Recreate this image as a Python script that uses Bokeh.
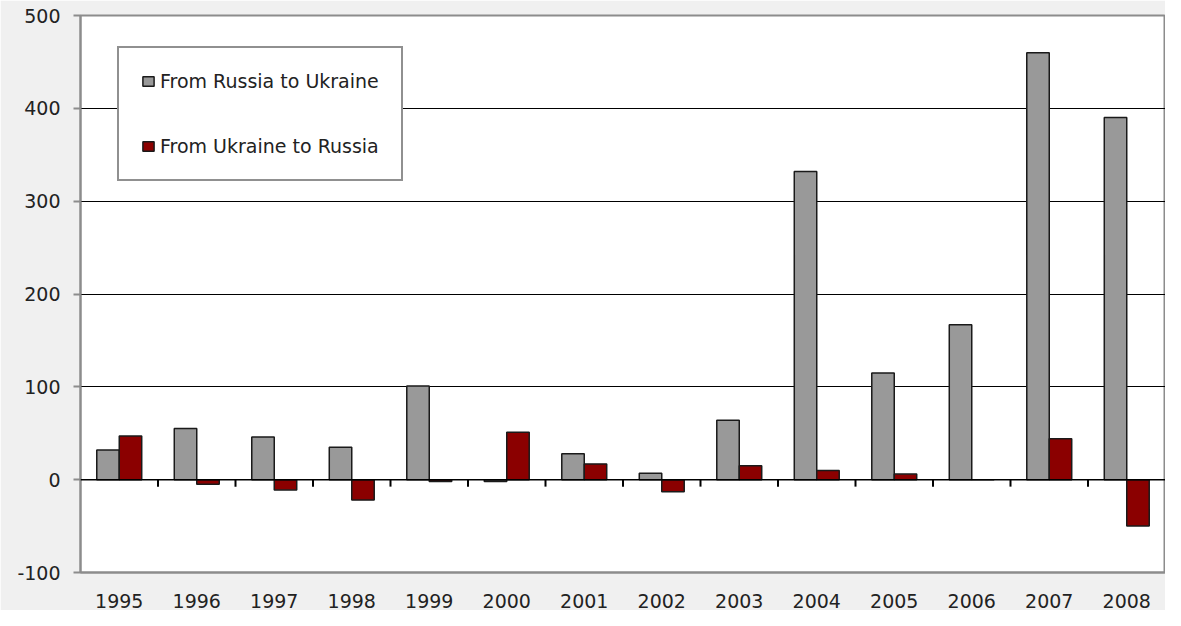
from bokeh.plotting import figure
from bokeh.models import Range1d, FixedTicker, Legend, LegendItem, Span, ColumnDataSource
from bokeh.transform import dodge
from bokeh.embed import file_html
from bokeh.resources import INLINE

years = ["1995", "1996", "1997", "1998", "1999", "2000", "2001",
         "2002", "2003", "2004", "2005", "2006", "2007", "2008"]
russia_to_ukraine = [32, 55, 46, 35, 101, -2, 28, 7, 64, 332, 115, 167, 460, 390]
ukraine_to_russia = [47, -5, -11, -22, -2, 51, 17, -13, 15, 10, 6, 0, 44, -50]
y_ticks = [-100, 0, 100, 200, 300, 400, 500]
y_tick_labels = ["-100", "0", "100", "200", "300", "400", "500"]

FONT = "DejaVu Sans"
xs = list(range(len(years)))
src = ColumnDataSource(dict(x=xs, ru=russia_to_ukraine, ur=ukraine_to_russia))

p = figure(width=1165, height=610, output_backend="svg", toolbar_location=None,
           x_range=Range1d(-0.5, len(years) - 0.5), y_range=Range1d(-100, 500),
           min_border_left=80, min_border_right=0, min_border_top=15, min_border_bottom=38)
p.border_fill_color = "#f0f0f0"
p.background_fill_color = "white"
p.outline_line_color = "#8c8c8c"
p.outline_line_width = 2

bw = 0.29
r1 = p.vbar(x=dodge("x", -bw / 2), top="ru", bottom=0, width=bw, source=src,
            fill_color="#999999", line_color="#1a1a1a", line_width=1.5)
r2 = p.vbar(x=dodge("x", bw / 2), top="ur", bottom=0, width=bw, source=src,
            fill_color="#8b0000", line_color="#1a1a1a", line_width=1.5)

# zero line and category boundary ticks
p.add_layout(Span(location=0, dimension="width", line_color="black", line_width=1.5))
bx = [i + 0.5 for i in range(len(years) - 1)]
p.segment(x0=bx, x1=bx, y0=[0] * len(bx), y1=[-7.5] * len(bx), line_color="black", line_width=2)

# axes
p.xaxis.ticker = FixedTicker(ticks=xs)
p.xaxis.major_label_overrides = {i: y for i, y in enumerate(years)}
p.xaxis.major_tick_line_color = None
p.xaxis.minor_tick_line_color = None
p.xaxis.axis_line_color = "#8c8c8c"
p.xaxis.axis_line_width = 2
p.xaxis.major_label_standoff = 15
p.xaxis.major_label_text_font = FONT
p.xaxis.major_label_text_font_size = "19px"
p.xaxis.major_label_text_color = "#222222"

p.yaxis.ticker = FixedTicker(ticks=y_ticks)
p.yaxis.major_label_overrides = dict(zip(y_ticks, y_tick_labels))
p.yaxis.minor_tick_line_color = None
p.yaxis.major_tick_in = 0
p.yaxis.major_tick_out = 7
p.yaxis.major_tick_line_color = "#8c8c8c"
p.yaxis.major_tick_line_width = 2
p.yaxis.axis_line_color = "#8c8c8c"
p.yaxis.axis_line_width = 2
p.yaxis.major_label_standoff = 13
p.yaxis.major_label_text_font = FONT
p.yaxis.major_label_text_font_size = "19px"
p.yaxis.major_label_text_color = "#222222"

p.xgrid.grid_line_color = None
p.ygrid.ticker = FixedTicker(ticks=[100, 200, 300, 400])
p.ygrid.grid_line_color = "black"
p.ygrid.grid_line_width = 1.2

legend = Legend(items=[LegendItem(label="From Russia to Ukraine", renderers=[r1]),
                       LegendItem(label="From Ukraine to Russia", renderers=[r2])],
                location=(37, 391))
legend.margin = 0
legend.padding = 22
legend.spacing = 43
legend.glyph_width = 14
legend.glyph_height = 12
legend.label_standoff = 5
legend.label_text_font = FONT
legend.label_text_font_size = "19px"
legend.label_text_color = "#222222"
legend.border_line_color = "#222222"
legend.border_line_width = 2
legend.background_fill_color = "white"
legend.background_fill_alpha = 1
p.add_layout(legend)

open("out.html", "w").write(file_html(p, INLINE))
